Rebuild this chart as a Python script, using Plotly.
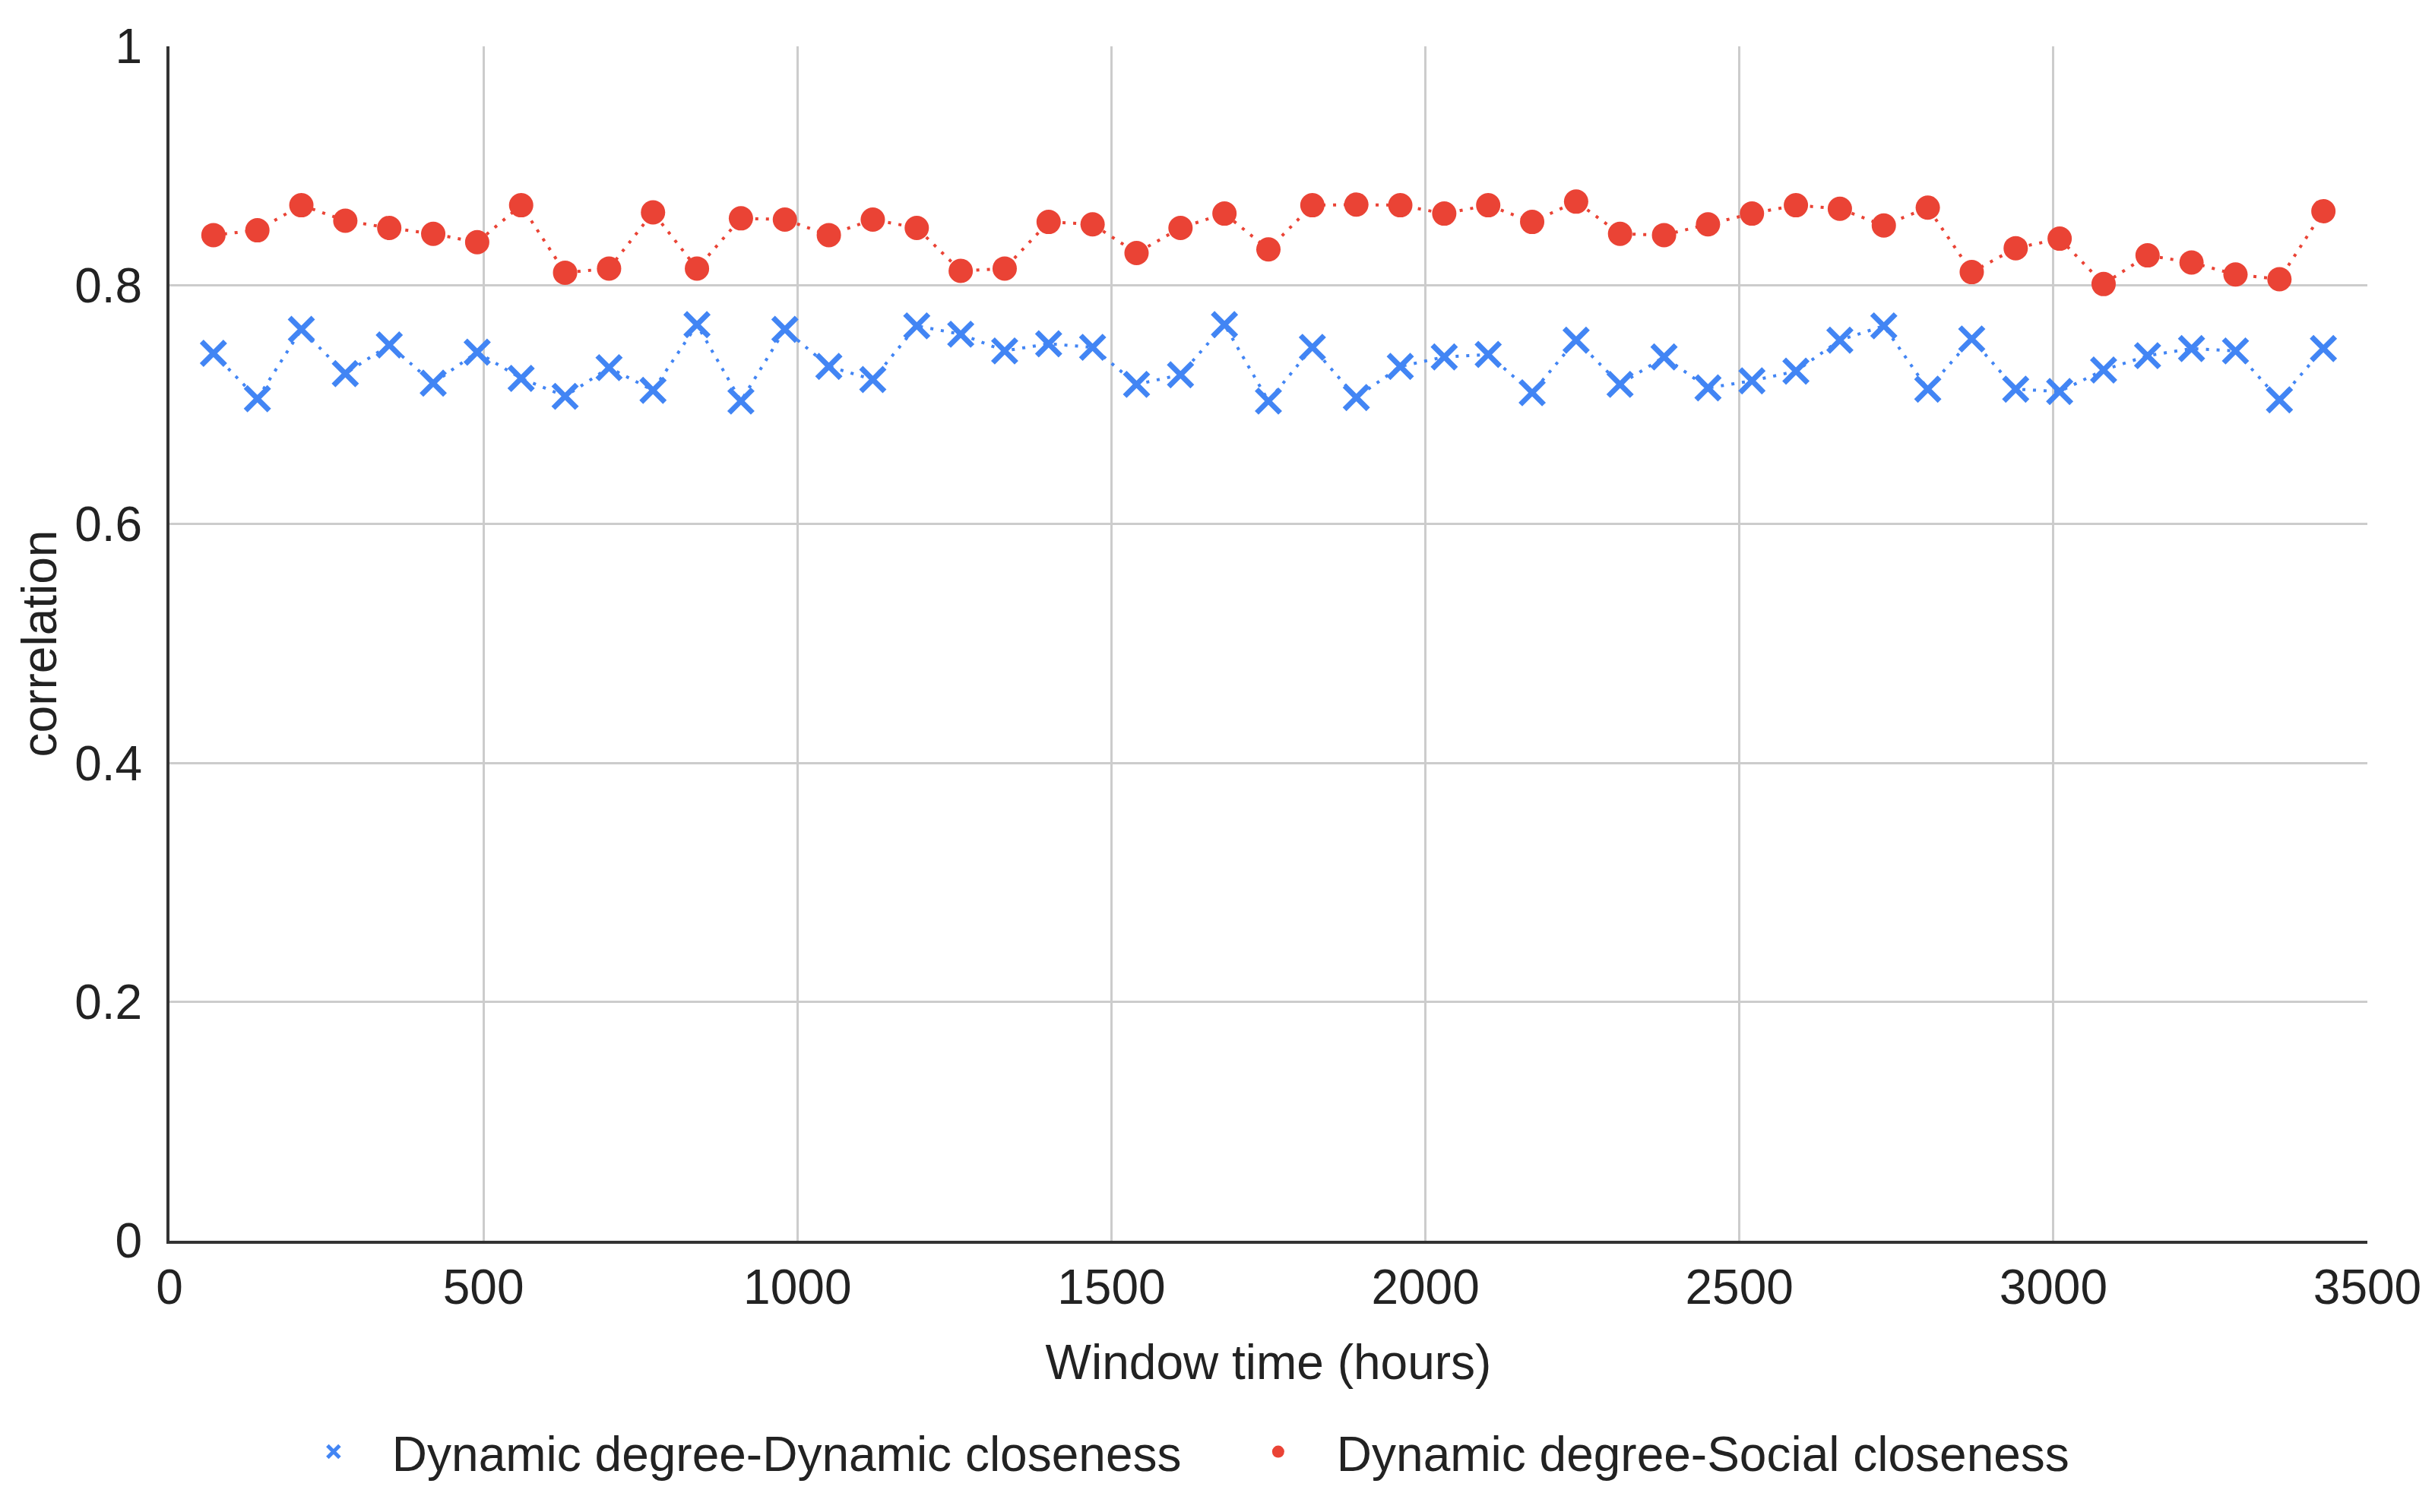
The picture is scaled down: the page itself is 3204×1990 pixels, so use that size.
import plotly.graph_objects as go

hours = [70, 140, 210, 280, 350, 420, 490, 560, 630, 700,
         770, 840, 910, 980, 1050, 1120, 1190, 1260, 1330, 1400,
         1470, 1540, 1610, 1680, 1750, 1820, 1890, 1960, 2030, 2100,
         2170, 2240, 2310, 2380, 2450, 2520, 2590, 2660, 2730, 2800,
         2870, 2940, 3010, 3080, 3150, 3220, 3290, 3360, 3430]

dyn_dyn = [0.743, 0.705, 0.763, 0.726, 0.750, 0.718, 0.744, 0.722, 0.707, 0.731,
           0.712, 0.767, 0.703, 0.763, 0.732, 0.721, 0.766, 0.759, 0.745, 0.751,
           0.748, 0.717, 0.725, 0.767, 0.703, 0.748, 0.706, 0.732, 0.740, 0.742,
           0.710, 0.754, 0.717, 0.740, 0.714, 0.720, 0.728, 0.754, 0.766, 0.713,
           0.755, 0.713, 0.711, 0.729, 0.741, 0.747, 0.745, 0.704, 0.747]

dyn_soc = [0.842, 0.846, 0.867, 0.854, 0.848, 0.843, 0.836, 0.867, 0.8105, 0.814,
           0.861, 0.814, 0.856, 0.855, 0.842, 0.855, 0.848, 0.812, 0.814, 0.853,
           0.851, 0.827, 0.848, 0.860, 0.830, 0.867, 0.8675, 0.867, 0.860, 0.867,
           0.853, 0.870, 0.843, 0.842, 0.851, 0.860, 0.867, 0.864, 0.850, 0.865,
           0.811, 0.831, 0.839, 0.801, 0.825, 0.819, 0.809, 0.805, 0.862]

series_names = ["Dynamic degree-Dynamic closeness", "Dynamic degree-Social closeness"]
x_ticks = [0, 500, 1000, 1500, 2000, 2500, 3000, 3500]
y_ticks = [0, 0.2, 0.4, 0.6, 0.8, 1]
y_tick_text = ["0", "0.2", "0.4", "0.6", "0.8", "1"]

BLUE = "#4285F4"
RED = "#EA4335"
TXT = "#222222"
FONT = "Arial, 'Liberation Sans', sans-serif"
FS = 64

fig = go.Figure()

fig.add_trace(go.Scatter(
    x=hours, y=dyn_dyn, mode="lines+markers", showlegend=False,
    line=dict(color=BLUE, width=4, dash="4px,10px"),
    marker=dict(symbol="x-thin", size=31, color=BLUE,
                line=dict(width=7, color=BLUE)),
))
fig.add_trace(go.Scatter(
    x=hours, y=dyn_soc, mode="lines+markers", showlegend=False,
    line=dict(color=RED, width=4, dash="4px,10px"),
    marker=dict(symbol="circle", size=32, color=RED, line=dict(width=0)),
))
# legend entries (markers only, as in the reference)
fig.add_trace(go.Scatter(
    x=[None], y=[None], mode="markers", name=series_names[0],
    marker=dict(symbol="x-thin", size=40, color=BLUE,
                line=dict(width=5, color=BLUE)),
))
fig.add_trace(go.Scatter(
    x=[None], y=[None], mode="markers", name=series_names[1],
    marker=dict(symbol="circle", size=40, color=RED),
))

fig.update_layout(
    width=3188, height=1974,
    margin=dict(l=215, r=81, t=53, b=349, autoexpand=False),
    paper_bgcolor="white", plot_bgcolor="white",
    font=dict(family=FONT, size=FS, color=TXT),
    legend=dict(orientation="h", xref="container", x=0.111, xanchor="left",
                yref="container", y=0.036, yanchor="middle",
                font=dict(size=FS, color=TXT), itemsizing="trace",
                itemwidth=144, entrywidth=1084, entrywidthmode="pixels",
                tracegroupgap=0),
    xaxis=dict(
        range=[0, 3500], tickvals=x_ticks, ticktext=[str(v) for v in x_ticks],
        showgrid=True, gridcolor="#CCCCCC", gridwidth=3,
        showline=True, linecolor="#333333", linewidth=4,
        zeroline=False, ticks="", ticklabelstandoff=2,
        ticklabeloverflow="allow", automargin=False,
        title=dict(text="Window time (hours)", standoff=42,
                   font=dict(size=FS, color=TXT)),
    ),
    yaxis=dict(
        range=[0, 1], tickvals=y_ticks, ticktext=y_tick_text,
        showgrid=True, gridcolor="#CCCCCC", gridwidth=3,
        showline=True, linecolor="#333333", linewidth=4,
        zeroline=False, ticks="", ticklabelstandoff=19,
        ticklabeloverflow="allow", automargin=False,
        title=dict(text="correlation", standoff=4,
                   font=dict(size=FS, color=TXT)),
    ),
)

fig.write_html("out.html")
